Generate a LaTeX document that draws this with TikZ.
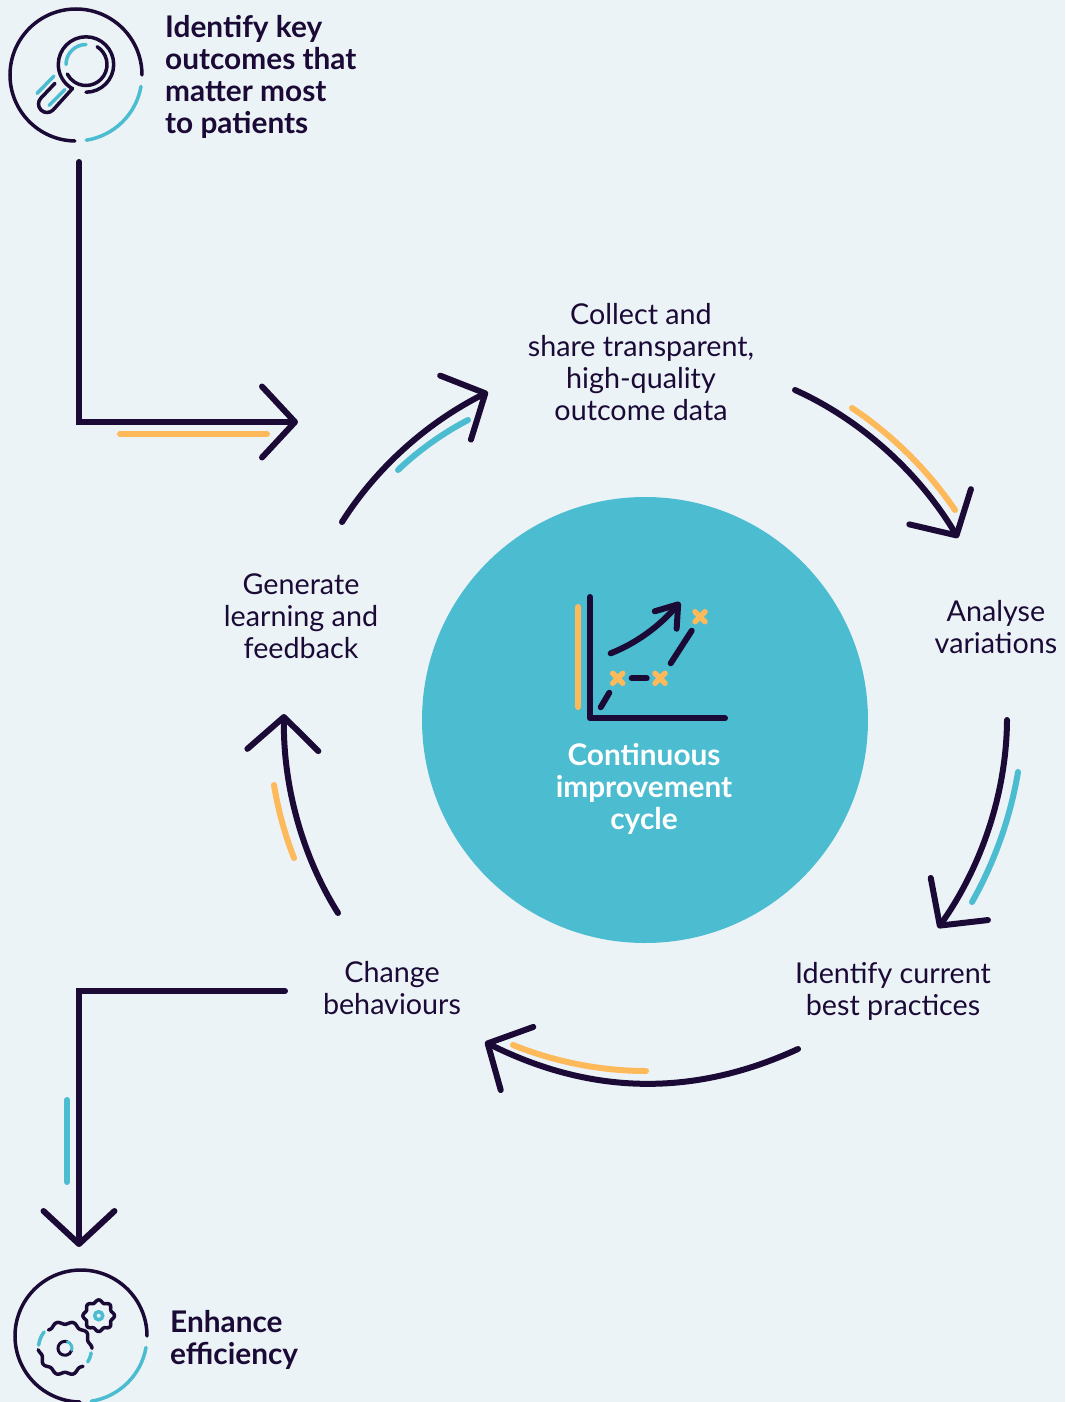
\documentclass[tikz,border=0pt]{standalone}
\usepackage{fontspec}
\setmainfont{Lato}
\usetikzlibrary{arrows.meta, bending}
\definecolor{pagebg}{HTML}{EBF3F7}
\definecolor{lagoon}{HTML}{4CBCD0}
\definecolor{ink}{HTML}{1B0A36}
\definecolor{amber}{HTML}{FDB95A}

\begin{document}
\begin{tikzpicture}[x=1pt, y=1pt]
  \tikzstyle{flow}=[draw=ink, line width=6pt, line cap=round, line join=miter, looseness=0.85, -{Straight Barb[length=33pt, width=71pt, line width=6pt, round]}]
  \tikzstyle{accent}=[line width=6pt, line cap=round, looseness=0.85]
  \tikzstyle{stage}=[text=ink, align=center, font=\fontsize{28.7}{32}\selectfont, inner sep=0pt]
  \tikzstyle{goal}=[text=ink, align=left, anchor=west, font=\fontsize{29.8}{32}\selectfont\bfseries, inner sep=0pt]
  \tikzstyle{iconline}=[draw=ink, line width=3.5pt, line cap=round]
  \tikzstyle{iconacc}=[draw=lagoon, line width=3.5pt, line cap=round]

  \useasboundingbox (0,-1402) rectangle (1065,0);
  \fill[pagebg] (0,-1402) rectangle (1065,0);

  % centre disc
  \node (hub) at (645,-720) [circle, fill=lagoon, minimum size=446pt, inner sep=0pt] {};
  \node (hublabel) at (644,-789) [align=center, text=white, font=\fontsize{29.8}{32}\selectfont\bfseries, inner sep=0pt] {Continuous\\improvement\\cycle};

  % stage labels
  \node (collect) at (641,-362) [stage] {Collect and\\share transparent,\\high-quality\\outcome data};
  \node (analyse) at (996,-627.5) [stage] {Analyse\\variations};
  \node (bestprac) at (893,-991) [stage] {Identify current\\best practices};
  \node (change) at (392,-988) [stage] {Change\\behaviours};
  \node (generate) at (301,-616.5) [stage] {Generate\\learning and\\feedback};
  \node (keyout) at (165,-77) [goal] {Identify key\\outcomes that\\matter most\\to patients};
  \node (efficiency) at (170,-1340) [goal] {Enhance\\efficiency};

  % free ends of the connectors
  \coordinate (collectout) at (795,-390);
  \coordinate (analysein) at (958,-538);
  \coordinate (analyseout) at (1007,-720);
  \coordinate (bestin) at (938,-928);
  \coordinate (bestout) at (798,-1049);
  \coordinate (changein) at (485,-1042);
  \coordinate (changeout) at (338,-913);
  \coordinate (genin) at (284,-714);
  \coordinate (genout) at (342,-522);
  \coordinate (collectin) at (488,-392);
  \coordinate (keystart) at (79,-162);
  \coordinate (keyend) at (298,-422);
  \coordinate (exitstart) at (285,-991);
  \coordinate (exitend) at (79,-1247);

  % cycle arrows
  \draw[flow] (collectout) to[bend left=18] (analysein);
  \draw[flow] (analyseout) to[bend left=18] (bestin);
  \draw[flow, looseness=0.95] (bestout) to[bend left=26] (changein);
  \draw[flow] (changeout) to[bend left=17] (genin);
  \draw[flow] (genout) to[bend left=16] (collectin);

  % entry and exit
  \draw[flow] (keystart) |- (keyend);
  \draw[flow] (exitstart) -| (exitend);

  % accents
  \draw[accent, amber] (852,-408) to[bend left=11] (955,-510);
  \draw[accent, lagoon] (1018,-772) to[bend left=10] (972,-902);
  \draw[accent, amber] (646,-1071) to[bend left=11] (513,-1045);
  \draw[accent, amber] (294,-858) to[bend left=6] (274,-785);
  \draw[accent, lagoon] (398,-470) to[bend left=8] (468,-420);
  \draw[accent, amber] (120,-434) -- (267,-434);
  \draw[accent, lagoon] (67,-1100) -- (67,-1182);

  % magnifier icon
  \begin{scope}[shift={(76,-75)}]
    \draw[iconline] (0:66) arc[start angle=0, delta angle=269, radius=66];
    \draw[iconacc] (-10:66) arc[start angle=-10, delta angle=-71, radius=66];
  \end{scope}
  \begin{scope}[shift={(86,-64.5)}]
    \draw[iconline] (-90:27.7) arc[start angle=-90, delta angle=331, radius=27.7];
    \draw[iconline] (58:21) arc[start angle=58, delta angle=-211, radius=21];
    \draw[iconacc] (180:20) arc[start angle=180, delta angle=-90, radius=20];
  \end{scope}
  \draw[iconline] (55,-83.3) -- (41,-98) arc[start angle=135, delta angle=180, radius=8.5] -- (72.7,-88.3);
  \draw[iconacc] (37,-93.5) -- (54,-76);
  \draw[iconacc] (49,-105.5) -- (65,-89.5);

  % gears icon
  \begin{scope}[shift={(81,-1336)}]
    \draw[iconline] (0:66) arc[start angle=0, delta angle=269, radius=66];
    \draw[iconacc] (-10:66) arc[start angle=-10, delta angle=-71, radius=66];
  \end{scope}
  \begin{scope}[shift={(98.7,-1315.7)}]
    \draw[iconline, line join=round] plot[domain=0:360, samples=97] (\x:{14.5+1.3*cos(8*\x)}) -- cycle;
    \draw[iconacc] (0,0) circle (4);
  \end{scope}
  \begin{scope}[shift={(65,-1348.3)}]
    \draw[iconline, line join=round] plot[domain=132:0, samples=45] (\x:{25.5+1.5*cos(10*\x)});
    \draw[iconline, line join=round] plot[domain=-45:-177, samples=45] (\x:{25.5+1.5*cos(10*\x)});
    \draw[iconacc] plot[domain=-10:-31, samples=8] (\x:26.5);
    \draw[iconacc] plot[domain=173:142, samples=10] (\x:26.5);
    \draw[iconline, line width=3pt] (70:7) arc[start angle=70, delta angle=275, radius=7];
    \draw[iconacc, line width=3pt] (70:7) arc[start angle=70, delta angle=-85, radius=7];
  \end{scope}

  % chart icon
  \draw[draw=ink, line width=6pt, line cap=round, line join=round] (590,-597) -- (590,-718.3) -- (725,-718.3);
  \draw[accent, amber] (578,-607) -- (578,-707);
  \draw[draw=ink, line width=6pt, line cap=round, looseness=0.85, -{Straight Barb[length=20pt, width=28pt, line width=6pt, round]}] (610.7,-653.3) to[bend right=15] (680,-602);
  \draw[accent, ink] (600.7,-707.3) -- (609.3,-692.7);
  \draw[accent, ink] (631.7,-678.3) -- (646.7,-678.3);
  \draw[accent, ink] (670.7,-663.3) -- (691.7,-630.7);
  \foreach \px/\py in {617.7/-678.3, 660/-678.3, 700/-616.7} {
    \draw[amber, line width=5.5pt, line cap=round] (\px-5,\py-5) -- (\px+5,\py+5) (\px-5,\py+5) -- (\px+5,\py-5);
  }
\end{tikzpicture}
\end{document}
